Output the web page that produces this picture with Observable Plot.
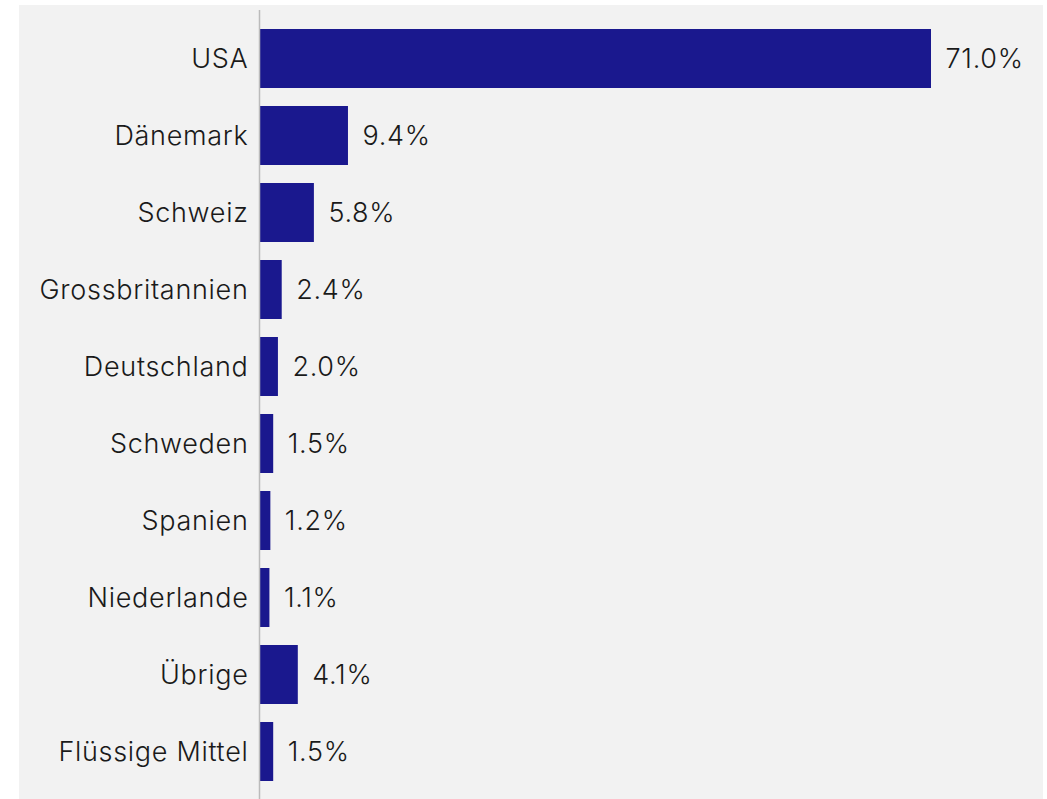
<!DOCTYPE html>
<html>
<head>
<meta charset="utf-8">
<script src="https://cdn.jsdelivr.net/npm/d3@7"></script>
<script src="https://cdn.jsdelivr.net/npm/@observablehq/plot@0.6"></script>
<style>
  html, body { margin: 0; padding: 0; background: #ffffff; overflow: hidden; }
  #chart { position: absolute; left: 19px; top: 5px; width: 1024px; background: #f2f2f2; }
  #chart svg { display: block; background: #f2f2f2; }
</style>
</head>
<body>
<div id="chart"></div>
<script>
const countries = ["USA", "Dänemark", "Schweiz", "Grossbritannien", "Deutschland", "Schweden", "Spanien", "Niederlande", "Übrige", "Flüssige Mittel"];
const shares = [71.0, 9.4, 5.8, 2.4, 2.0, 1.5, 1.2, 1.1, 4.1, 1.5];

const data = countries.map((c, i) => ({country: c, share: shares[i]}));

const chart = Plot.plot({
  width: 1024,
  height: 795,
  marginLeft: 240,
  marginRight: 112,
  marginTop: 5,
  marginBottom: 0,
  style: {fontFamily: "Inter, sans-serif", fontSize: "27px", fontWeight: 300, letterSpacing: "0.7px", color: "#1a1a1a", background: "#f2f2f2", overflow: "visible"},
  x: {domain: [0, 71], axis: null},
  y: {domain: countries, padding: 0.236, label: null},
  marks: [
    Plot.axisY({tickSize: 0, tickPadding: 11, fontSize: 27, fontWeight: 300, fill: "#1a1a1a"}),
    Plot.barX(data, {x: "share", y: "country", fill: "#1a188e"}),
    Plot.ruleX([0], {stroke: "#bbbbbb", strokeWidth: 1.5}),
    Plot.text(data, {x: "share", y: "country", text: d => d.share.toFixed(1) + "%", textAnchor: "start", dx: 14, fontSize: 27, fontWeight: 300, fill: "#1a1a1a"})
  ]
});
document.getElementById("chart").appendChild(chart);
</script>
</body>
</html>
